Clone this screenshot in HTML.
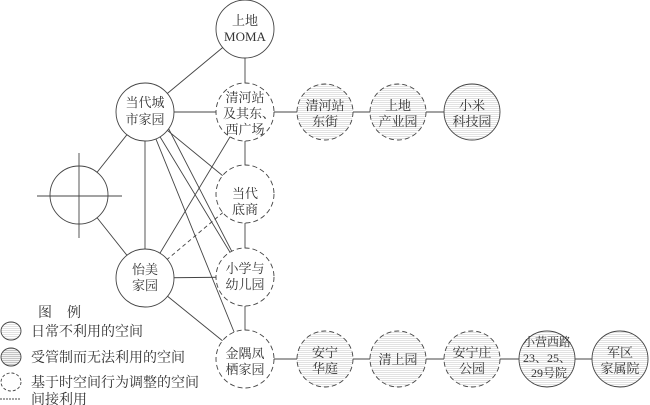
<!DOCTYPE html>
<html><head><meta charset="utf-8"><style>body{margin:0;background:#fff}svg{display:block}text{font-family:"Liberation Serif","Noto Serif CJK SC",serif;fill:#333}</style></head><body>
<svg width="650" height="405" viewBox="0 0 650 405" xmlns="http://www.w3.org/2000/svg">
<defs><pattern id="h" width="4" height="2" patternUnits="userSpaceOnUse"><rect width="4" height="2" fill="#fff"/><rect width="4" height="1" fill="#e2e2e2"/></pattern>
<pattern id="h2" width="4" height="2" patternUnits="userSpaceOnUse"><rect width="4" height="2" fill="#f4f4f4"/><rect width="4" height="1" fill="#c4c4c4"/></pattern></defs>
<g stroke="#444" stroke-width="0.9" fill="none">
<line x1="145" y1="112" x2="245" y2="29"/><line x1="245" y1="29" x2="245" y2="112"/>
<line x1="145" y1="112" x2="245" y2="112"/><line x1="245" y1="112" x2="472" y2="112"/>
<line x1="245" y1="112" x2="245" y2="359"/><line x1="245" y1="359" x2="620" y2="359"/>
<line x1="145" y1="112" x2="79" y2="195"/><line x1="145" y1="112" x2="145" y2="278"/>
<line x1="145" y1="112" x2="245" y2="194"/><line x1="145" y1="112" x2="245" y2="277"/><line x1="145" y1="112" x2="245" y2="359"/><line x1="160" y1="112" x2="245" y2="277"/>
<line x1="79" y1="195" x2="145" y2="278"/><line x1="145" y1="278" x2="245" y2="112"/><line x1="145" y1="278" x2="245" y2="277"/><line x1="145" y1="278" x2="245" y2="359"/>
<line x1="145" y1="278" x2="245" y2="194" stroke-dasharray="4,3"/>
</g>
<g stroke="#444" stroke-width="0.9">
<circle cx="245" cy="29" r="29" fill="#fff"/><circle cx="145" cy="112" r="29" fill="#fff"/><circle cx="145" cy="278" r="29" fill="#fff"/>
<circle cx="79" cy="195" r="29" fill="#fff"/>
<line x1="37" y1="196" x2="122" y2="196"/><line x1="79" y1="153" x2="79" y2="238"/>
<g stroke-dasharray="5,3" fill="#fff"><circle cx="245" cy="112" r="29"/><circle cx="245" cy="194" r="29"/><circle cx="245" cy="277" r="29"/><circle cx="245" cy="359" r="29"/></g>
<g stroke-dasharray="5,3" fill="url(#h)"><circle cx="325" cy="112" r="28"/><circle cx="398" cy="112" r="28"/><circle cx="325" cy="359" r="28"/><circle cx="398" cy="359" r="28"/><circle cx="472" cy="359" r="28"/></g>
<circle cx="472" cy="112" r="28" fill="url(#h)"/><circle cx="547" cy="359" r="28" fill="url(#h)"/><circle cx="620" cy="359" r="28" fill="url(#h)"/>
<ellipse cx="11" cy="331" rx="10" ry="9" fill="url(#h)"/><ellipse cx="11" cy="357" rx="10" ry="9" fill="url(#h2)"/><ellipse cx="11" cy="382" rx="10" ry="9" fill="#fff" stroke-dasharray="3,2"/>
<line x1="0" y1="399" x2="20" y2="399" stroke-dasharray="2,1"/>
</g>
<g font-size="13" text-anchor="middle">
<text x="245" y="25">上地</text><text x="245" y="41">MOMA</text>
<text x="145" y="107">当代城</text><text x="145" y="124">市家园</text>
<text x="245" y="102">清河站</text><text x="249" y="118">及其东、</text><text x="245" y="134">西广场</text>
<text x="245" y="198">当代</text><text x="245" y="214">底商</text>
<text x="145" y="274">怡美</text><text x="145" y="290">家园</text>
<text x="245" y="273">小学与</text><text x="245" y="289">幼儿园</text>
<text x="245" y="358">金隅凤</text><text x="245" y="374">栖家园</text>
<text x="325" y="110">清河站</text><text x="325" y="126">东街</text>
<text x="398" y="110">上地</text><text x="398" y="126">产业园</text>
<text x="472" y="110">小米</text><text x="472" y="126">科技园</text>
<text x="325" y="357">安宁</text><text x="325" y="373">华庭</text>
<text x="398" y="364">清上园</text>
<text x="472" y="357">安宁庄</text><text x="472" y="373">公园</text>
<g font-size="12"><text x="547" y="346">小营西路</text><text x="547" y="362">23、25、</text><text x="549" y="377">29号院</text></g>
<text x="620" y="357">军区</text><text x="620" y="373">家属院</text>
</g>
<g font-size="14"><text x="38" y="317">图</text><text x="67" y="317">例</text>
<text x="31" y="336">日常不利用的空间</text><text x="31" y="362">受管制而无法利用的空间</text><text x="31" y="387">基于时空间行为调整的空间</text><text x="31" y="404">间接利用</text></g>
</svg>
</body></html>
